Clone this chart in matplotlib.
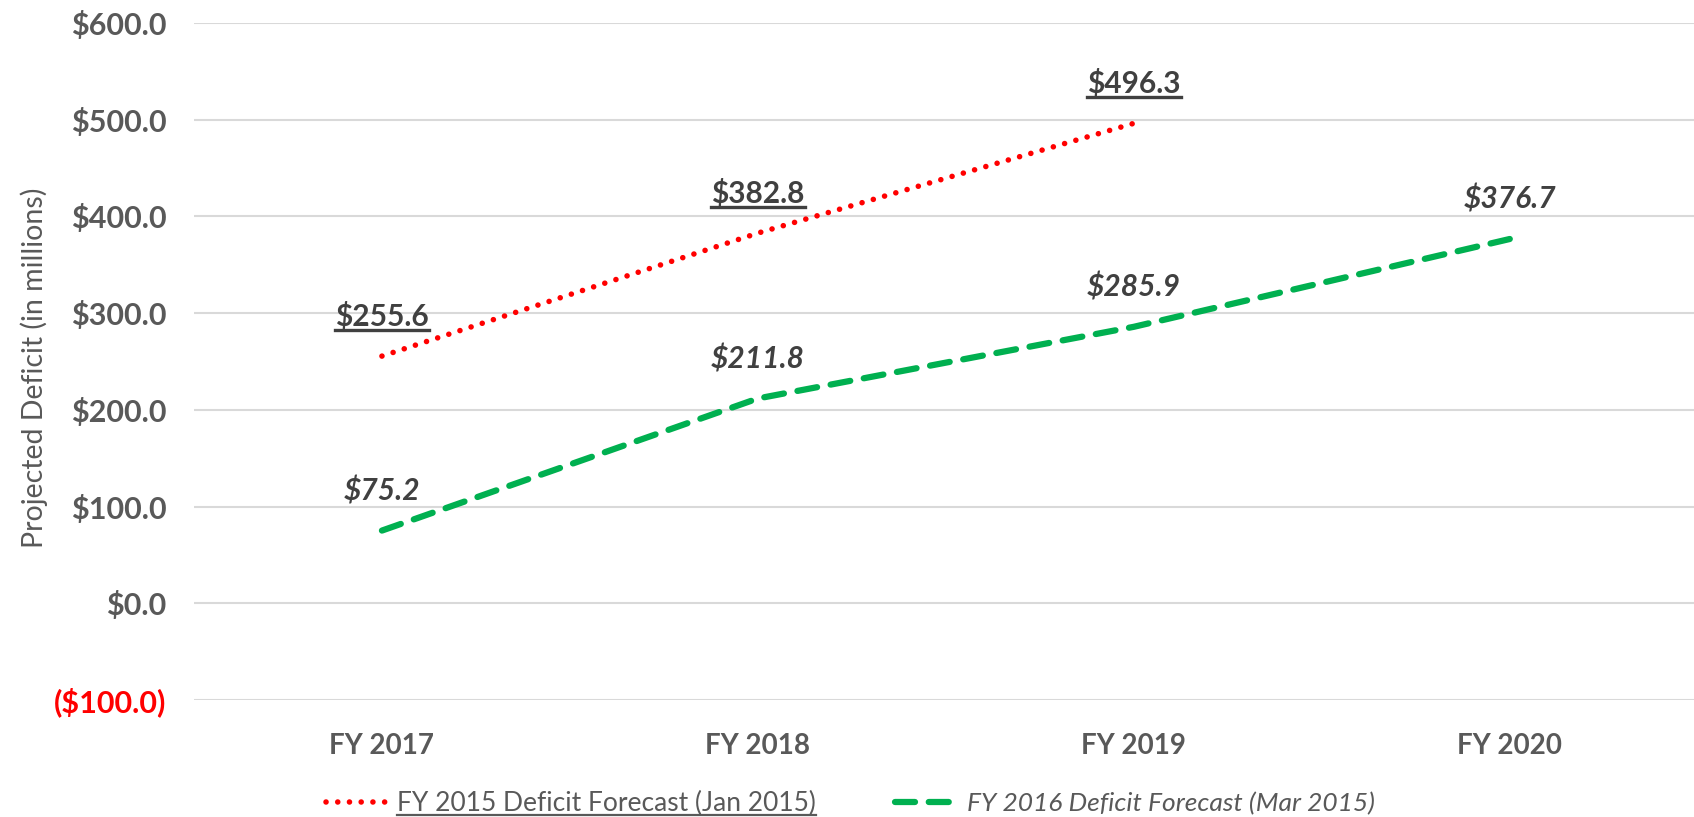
import matplotlib.pyplot as plt
from matplotlib.lines import Line2D

# ~~~ DATA ~~~~~~~~~~~~~~~~~~~~~~~~~~~~~~~~~~~~~~~~~~~~~~~~~~~~~~~~~~~~~~~~~~~
years = ['FY 2017', 'FY 2018', 'FY 2019', 'FY 2020']
fy2015 = [255.6, 382.8, 496.3]
fy2016 = [75.2, 211.8, 285.9, 376.7]
yticks = [-100, 0, 100, 200, 300, 400, 500, 600]

gray = '#595959'
dark = '#404040'
plt.rcParams['font.family'] = ['Lato', 'DejaVu Sans']


def money(v):
    if v < 0:
        return f'(${-v:.1f})'
    return f'${v:.1f}'


# ~~~ PLOT ~~~~~~~~~~~~~~~~~~~~~~~~~~~~~~~~~~~~~~~~~~~~~~~~~~~~~~~~~~~~~~~~~~~
fig = plt.figure(figsize=(16.94, 8.17), dpi=100)
ax = fig.add_axes([0.1145, 0.1432, 0.8855, 0.8286])

x1 = range(len(fy2015))
x2 = range(len(fy2016))
l1, = ax.plot(x1, fy2015, color='red', lw=4, ls=(0, (0.01, 2.1)),
              dash_capstyle='round', label='FY 2015 Deficit Forecast (Jan 2015)')
l2, = ax.plot(x2, fy2016, color='#00B050', lw=4.5, ls=(0, (3.2, 2.2)),
              dash_capstyle='round', label='FY 2016 Deficit Forecast (Mar 2015)')

for xi, v in zip(x1, fy2015):
    ax.annotate(money(v), (xi, v), xytext=(0, 18), textcoords='offset points',
                ha='center', va='bottom', fontsize=21.5, fontweight='bold',
                color=dark)
for xi, v in zip(x2, fy2016):
    ax.annotate(money(v), (xi, v), xytext=(0, 18), textcoords='offset points',
                ha='center', va='bottom', fontsize=21.5, fontweight='bold',
                fontstyle='italic', color=dark)

ax.set_xlim(-0.5, 3.49)
ax.set_ylim(-100, 600)
ax.set_yticks(yticks)
ax.set_yticklabels([money(v) for v in yticks])
ax.set_xticks(range(len(years)))
ax.set_xticklabels(years)
ax.tick_params(length=0, labelsize=22, labelcolor=gray, pad=20)
ax.tick_params(axis='x', labelsize=20, pad=24)
for t in ax.get_yticklabels() + ax.get_xticklabels():
    t.set_fontweight('bold')
ax.get_yticklabels()[0].set_color('red')
ax.grid(axis='y', color='#d9d9d9', lw=1.5)
ax.set_axisbelow(True)
for s in ax.spines.values():
    s.set_visible(False)

ax.set_ylabel('Projected Deficit (in millions)', fontsize=20.5, color=gray)
ax.yaxis.set_label_coords(-0.097, 0.49)

leg = fig.legend(handles=[l1, l2], loc='lower center', ncol=2, frameon=False,
                 bbox_to_anchor=(0.502, -0.028), fontsize=19, handlelength=2.3,
                 columnspacing=3.0, handletextpad=0.4)
texts = leg.get_texts()
for t in texts:
    t.set_color(gray)
texts[1].set_fontstyle('italic')

# underline the FY2015 labels and legend entry
fig.canvas.draw()
rend = fig.canvas.get_renderer()
labels = list(ax.texts[:len(fy2015)])
for t in labels + [texts[0]]:
    bb = t.get_window_extent(rend)
    y = bb.y0 + 1
    fig.add_artist(Line2D([bb.x0 / fig.bbox.width, bb.x1 / fig.bbox.width],
                          [y / fig.bbox.height, y / fig.bbox.height],
                          color=t.get_color(), lw=2.4 if t in labels else 1.6,
                          transform=fig.transFigure))

fig.savefig('out.png', dpi=100)
